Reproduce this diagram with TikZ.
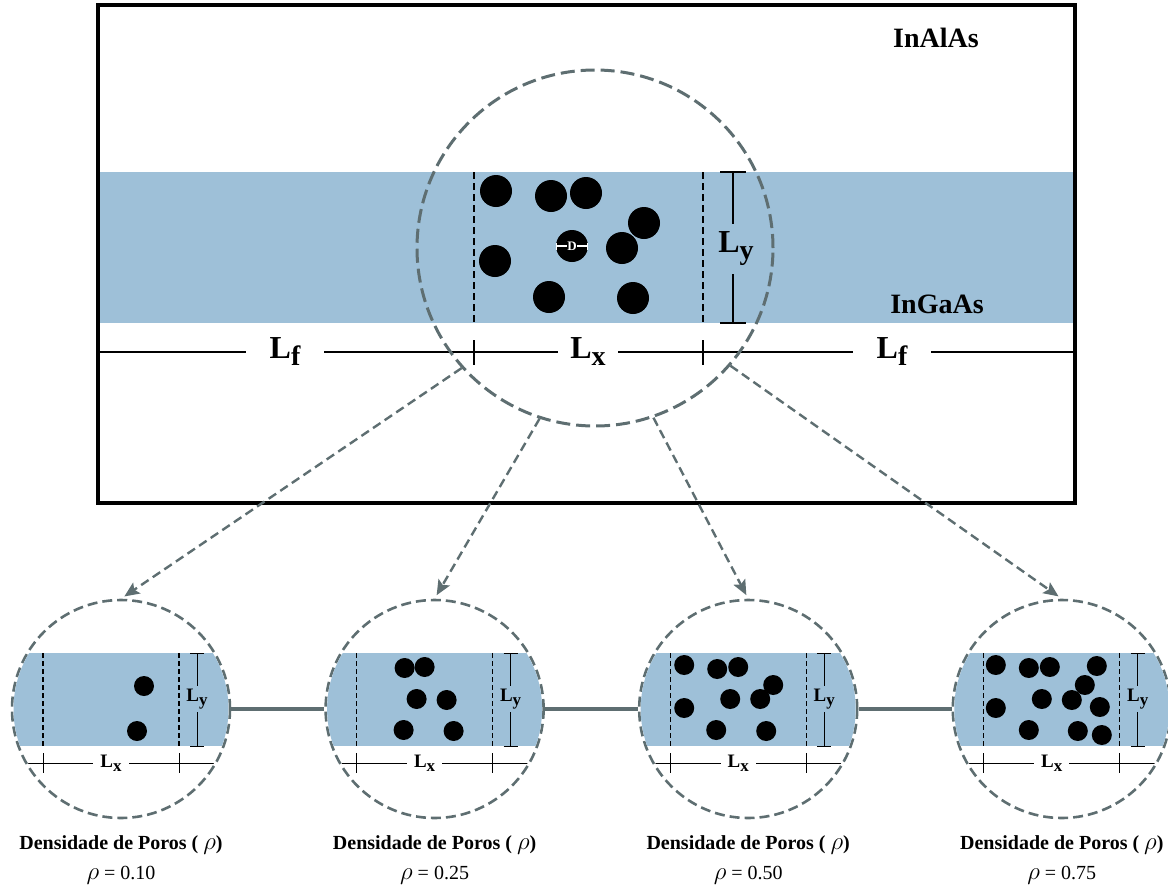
\documentclass[tikz,border=0pt]{standalone}
\usepackage{fontspec}
\setmainfont{Liberation Serif}
\usetikzlibrary{arrows.meta,positioning,calc}

\definecolor{bandblue}{RGB}{158,192,216}
\definecolor{zoomgray}{RGB}{94,110,113}

\newcommand{\bigL}[1]{L\raisebox{-7pt}{\fontsize{28}{28}\selectfont #1}}
\newcommand{\smallL}[1]{L\raisebox{-4pt}{\fontsize{17}{17}\selectfont #1}}
\newcommand{\rhosym}{{\fontsize{25}{25}\selectfont$\rho$}}

\begin{document}
\begin{tikzpicture}[x=1pt, y=-1pt,
  lens/.style={circle, draw=zoomgray, line width=3pt, dash pattern=on 14pt off 6pt, minimum size=356pt, inner sep=0pt},
  inset/.style={circle, draw=zoomgray, line width=2.6pt, dash pattern=on 10pt off 5pt, fill=white, minimum size=218pt, inner sep=0pt},
  arr/.style={draw=zoomgray, line width=2.4pt, dash pattern=on 9pt off 5pt, -{Stealth[length=15pt,width=13pt,inset=3pt]}, shorten >=4pt},
  link/.style={draw=zoomgray, line width=3.5pt},
  guide/.style={draw=black, line width=1.4pt, dash pattern=on 7pt off 4pt},
  dim/.style={draw=black, line width=1.3pt},
  layer/.style={font=\fontsize{28}{28}\selectfont\bfseries},
  biglab/.style={font=\fontsize{32}{32}\selectfont\bfseries, inner xsep=12pt, inner ysep=8pt},
  smalllab/.style={font=\fontsize{19}{19}\selectfont\bfseries, inner xsep=7pt, inner ysep=3pt},
  caption/.style={font=\fontsize{20}{20}\selectfont\bfseries},
  value/.style={font=\fontsize{20}{20}\selectfont},
  pore/.style={circle, fill=black, minimum size=32pt, inner sep=0pt}
]
\useasboundingbox (0,0) rectangle (1168,887);

% heterostructure
\fill[bandblue] (100,172) rectangle (1075,323);
\draw[line width=3.5pt] (98,5) rectangle (1075,503);
\node[layer, anchor=base] (alas) at (936,47) {InAlAs};
\node[layer, anchor=base] (gaas) at (937,313) {InGaAs};

% cotas
\draw[dim] (100,352) -- (1075,352);
\draw[dim] (474,340) -- (474,365);
\draw[dim] (703,340) -- (703,365);
\draw[guide] (474,172) -- (474,323);
\draw[guide] (703,172) -- (703,323);
\draw[dim] (733,172) -- (733,323);
\draw[dim] (720,172) -- (746,172);
\draw[dim] (720,323) -- (746,323);
\node[biglab, fill=white, inner xsep=24pt] (lfa) at (285,352) {\bigL{f}};
\node[biglab, fill=white] (lx) at (588,352) {\bigL{x}};
\node[biglab, fill=white, inner xsep=24pt] (lfb) at (892,352) {\bigL{f}};
\node[biglab, fill=bandblue, inner xsep=4pt] (ly) at (736,249) {\bigL{y}};

% poros
\foreach \x/\y in {496/191, 551/196, 586/193, 644/223, 622/248, 495/261, 549/297, 633/298}
  \fill (\x,\y) circle[radius=16pt];
\node[pore] (pD) at (572,246) {};
\draw[white, line width=1.3pt, {Bar[width=7pt]}-{Bar[width=7pt]}] (pD.west) -- (pD.east);
\node[fill=black, text=white, inner sep=0.6pt, font=\fontsize{13}{13}\selectfont\bfseries] (dlab) at (pD) {D};

\node[lens] (lens) at (595,248) {};

% ampliacoes
\node[inset] (c1) at (121,709) {};
\node[inset, right=93pt of c1] (c2) {};
\node[inset, right=93pt of c2] (c3) {};
\node[inset, right=93pt of c3] (c4) {};
\draw[link] (c1.east) -- (c2.west);
\draw[link] (c2.east) -- (c3.west);
\draw[link] (c3.east) -- (c4.west);

\foreach \c in {c1,c2,c3,c4}{
  \begin{scope}[shift={(\c.center)}]
    \clip (0,0) circle[radius=107.5pt];
    \fill[bandblue] (-110,-56) rectangle (110,37);
    \draw[guide, line width=1.1pt, dash pattern=on 5pt off 3pt] (-78,-56) -- (-78,37);
    \draw[guide, line width=1.1pt, dash pattern=on 5pt off 3pt] (58,-56) -- (58,37);
    \draw[dim, line width=1pt] (-110,54) -- (110,54);
    \draw[dim, line width=1pt] (-78,44) -- (-78,64);
    \draw[dim, line width=1pt] (58,44) -- (58,64);
    \draw[dim, line width=1pt] (76,-56) -- (76,37);
    \draw[dim, line width=1pt] (69,-56) -- (83,-56);
    \draw[dim, line width=1pt] (69,37) -- (83,37);
    \node[smalllab, fill=white] at (-10,54) {\smallL{x}};
    \node[smalllab, fill=bandblue, inner xsep=2pt] at (76,-10) {\smallL{y}};
  \end{scope}
}

\foreach \x/\y in {23/-23, 16/22}
  \fill ($(c1)+(\x,\y)$) circle[radius=10pt];
\foreach \x/\y in {-30/-41, -10/-42, -18/-10, 12/-9, -31/21, 19/22}
  \fill ($(c2)+(\x,\y)$) circle[radius=10pt];
\foreach \x/\y in {-64/-44, -31/-40, -10/-42, 25/-24, -18/-10, 12/-10, -64/-1, -32/21, 18/22}
  \fill ($(c3)+(\x,\y)$) circle[radius=10pt];
\foreach \x/\y in {-66/-44, -33/-41, -12/-42, 35/-43, 23/-24, -20/-10, 10/-9, 38/-2, -66/-1, -33/21, 16/22, 40/26}
  \fill ($(c4)+(\x,\y)$) circle[radius=10pt];

\draw[arr] (lens.222) -- (c1.north);
\draw[arr] (lens.252) -- (c2.north);
\draw[arr] (lens.289) -- (c3.north);
\draw[arr] (lens.319) -- (c4.north);

% legendas
\node[caption] (t1) at ($(c1)+(0,136)$) {Densidade de Poros ( \rhosym)};
\node[caption] (t2) at ($(c2)+(0,136)$) {Densidade de Poros ( \rhosym)};
\node[caption] (t3) at ($(c3)+(0,136)$) {Densidade de Poros ( \rhosym)};
\node[caption] (t4) at ($(c4)+(0,136)$) {Densidade de Poros ( \rhosym)};
\node[value] (v1) at ($(c1)+(0,166)$) {\rhosym\ = 0.10};
\node[value] (v2) at ($(c2)+(0,166)$) {\rhosym\ = 0.25};
\node[value] (v3) at ($(c3)+(0,166)$) {\rhosym\ = 0.50};
\node[value] (v4) at ($(c4)+(0,166)$) {\rhosym\ = 0.75};
\end{tikzpicture}
\end{document}
